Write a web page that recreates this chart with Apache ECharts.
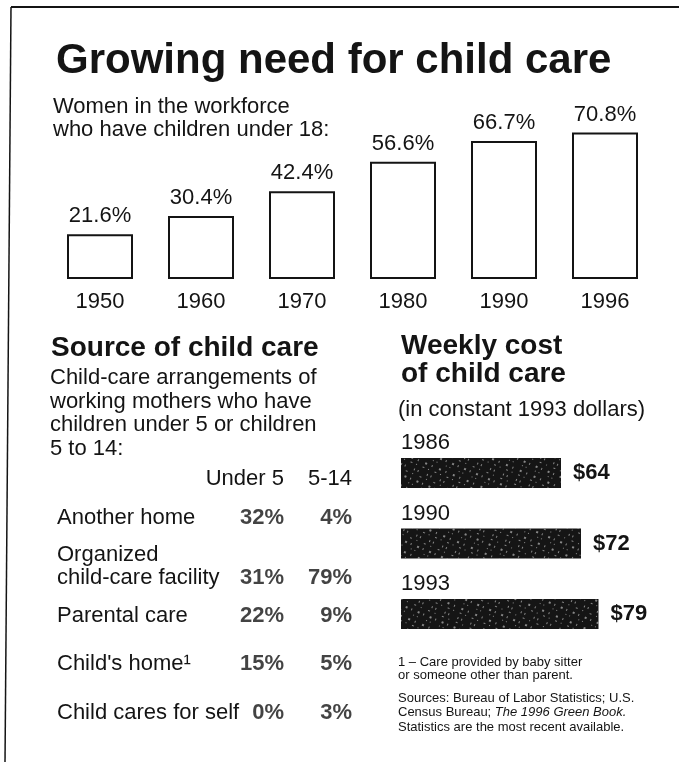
<!DOCTYPE html>
<html>
<head>
<meta charset="utf-8">
<title>Growing need for child care</title>
<script src="https://cdn.jsdelivr.net/npm/echarts@6/dist/echarts.min.js"></script>
<style>
    html, body { margin: 0; padding: 0; background: #fff; }
    #chart { width: 679px; height: 762px; }
</style>
</head>
<body>
<div id="chart"></div>
<script>
// women in the workforce who have children under 18 (%)
let years = ['1950', '1960', '1970', '1980', '1990', '1996'];
let workforceShare = [21.6, 30.4, 42.4, 56.6, 66.7, 70.8];

// source of child care (%)
let careSources = ['Another home', 'Organized\nchild-care facility', 'Parental care', 'Child\'s home\u00b9', 'Child cares for self'];
let careGroups = ['Under 5', '5-14'];
let under5Share = [32, 31, 22, 15, 0];
let age5to14Share = [4, 79, 9, 5, 3];

// weekly cost of child care, constant 1993 dollars
let costYears = ['1986', '1990', '1993'];
let weeklyCost = [64, 72, 79];

let font = '"Liberation Sans", Arial, Helvetica, sans-serif';
let ink = '#141414';

let txt = (x, y, text, size, extra) => ({
    type: 'text',
    x: x,
    y: y,
    silent: true,
    style: Object.assign({
        text: text,
        fill: ink,
        fontFamily: font,
        fontSize: size,
        textAlign: 'left',
        textVerticalAlign: 'top'
    }, extra || {})
});

// table cells, one scatter per age group
let tableSeries = (col, values) => ({
    type: 'scatter',
    xAxisIndex: 1,
    yAxisIndex: 1,
    symbolSize: 0,
    data: values.map((v, i) => ({
        value: [col, i, v],
        // the two-line row puts its numbers on the second line
        label: i === 1 ? { offset: [0, 11] } : undefined
    })),
    label: {
        show: true,
        position: 'left',
        distance: 0,
        formatter: p => p.value[2] + '%',
        color: ink,
        fontFamily: font,
        fontSize: 22,
        fontWeight: 'bold'
    }
});

let option = {
    backgroundColor: '#fff',
    animation: false,
    textStyle: { fontFamily: font, color: ink },
    grid: [
        { left: 49.5, right: 23.5, top: 72, height: 207 },
        { left: 250, width: 136, top: 493.6, height: 243.75 },
        { left: 401, width: 250, top: 437.75, height: 211.5 }
    ],
    xAxis: [
        {
            gridIndex: 0,
            type: 'category',
            data: years,
            axisLine: { show: false },
            axisTick: { show: false },
            axisLabel: { margin: 12, fontSize: 22, color: ink, fontFamily: font }
        },
        {
            gridIndex: 1,
            type: 'category',
            data: careGroups,
            position: 'top',
            axisLine: { show: false },
            axisTick: { show: false },
            axisLabel: { interval: 0, hideOverlap: false, align: 'right', margin: 4, fontSize: 22, color: ink, fontFamily: font }
        },
        { gridIndex: 2, type: 'value', min: 0, max: 100, show: false }
    ],
    yAxis: [
        { gridIndex: 0, type: 'value', min: 0, max: 100, show: false },
        {
            gridIndex: 1,
            type: 'category',
            data: careSources,
            inverse: true,
            axisLine: { show: false },
            axisTick: { show: false },
            axisLabel: { interval: 0, align: 'left', margin: 193, fontSize: 22, lineHeight: 23, color: ink, fontFamily: font }
        },
        {
            gridIndex: 2,
            type: 'category',
            data: costYears,
            inverse: true,
            axisLine: { show: false },
            axisTick: { show: false },
            axisLabel: {
                interval: 0,
                inside: true,
                margin: 0,
                verticalAlign: 'bottom',
                padding: [0, 0, 19, 0],
                fontSize: 22,
                color: ink,
                fontFamily: font
            }
        }
    ],
    series: [
        {
            type: 'bar',
            xAxisIndex: 0,
            yAxisIndex: 0,
            data: workforceShare,
            barWidth: 66,
            itemStyle: { color: '#fff', borderColor: ink, borderWidth: 2 },
            label: {
                show: true,
                position: 'top',
                distance: 7,
                formatter: '{c}%',
                fontSize: 22,
                color: ink,
                fontFamily: font
            }
        },
        tableSeries(0, under5Share),
        tableSeries(1, age5to14Share),
        {
            type: 'bar',
            xAxisIndex: 2,
            yAxisIndex: 2,
            data: weeklyCost,
            barWidth: 30,
            itemStyle: {
                color: '#151515',
                // halftone speckle of the printed bars
                decal: {
                    symbol: 'rect',
                    symbolSize: 0.9,
                    color: 'rgba(255,255,255,0.55)',
                    dashArrayX: [[2, 5, 1, 7], [1, 6, 2, 4], [1, 9, 1, 3]],
                    dashArrayY: [2, 3, 1, 4],
                    rotation: 0.4
                }
            },
            label: {
                show: true,
                position: 'right',
                distance: 12,
                formatter: '${c}',
                fontSize: 22,
                fontWeight: 'bold',
                color: ink,
                fontFamily: font
            }
        }
    ],
    graphic: [
        // frame
        { type: 'line', silent: true, shape: { x1: 11, y1: 7, x2: 679, y2: 7 }, style: { stroke: ink, lineWidth: 2 } },
        { type: 'line', silent: true, shape: { x1: 11, y1: 7, x2: 5, y2: 762 }, style: { stroke: ink, lineWidth: 1.5 } },

        txt(56, 40, 'Growing need for child care', 42, { fontWeight: 'bold' }),
        txt(53, 95.5, 'Women in the workforce\nwho have children under 18:', 22, { lineHeight: 23 }),

        txt(51, 334, 'Source of child care', 28, { fontWeight: 'bold' }),
        txt(50, 366, 'Child-care arrangements of\nworking mothers who have\nchildren under 5 or children\n5 to 14:', 22, { lineHeight: 23.7 }),

        txt(401, 332, 'Weekly cost\nof child care', 28, { fontWeight: 'bold', lineHeight: 28 }),
        txt(398, 399, '(in constant 1993 dollars)', 22),

        txt(398, 655.5, '1 \u2013 Care provided by baby sitter\nor someone other than parent.', 13, { lineHeight: 13.5 }),
        txt(398, 690.75, 'Sources: Bureau of Labor Statistics; U.S.\nCensus Bureau; {i|The 1996 Green Book.}\nStatistics are the most recent available.', 13, {
            lineHeight: 14.5,
            rich: { i: { fontStyle: 'italic', fontSize: 13, lineHeight: 14.5, fontFamily: font, fill: ink } }
        })
    ]
};

let chart = echarts.init(document.getElementById('chart'), null, { renderer: 'canvas' });
chart.setOption(option);
</script>
</body>
</html>
